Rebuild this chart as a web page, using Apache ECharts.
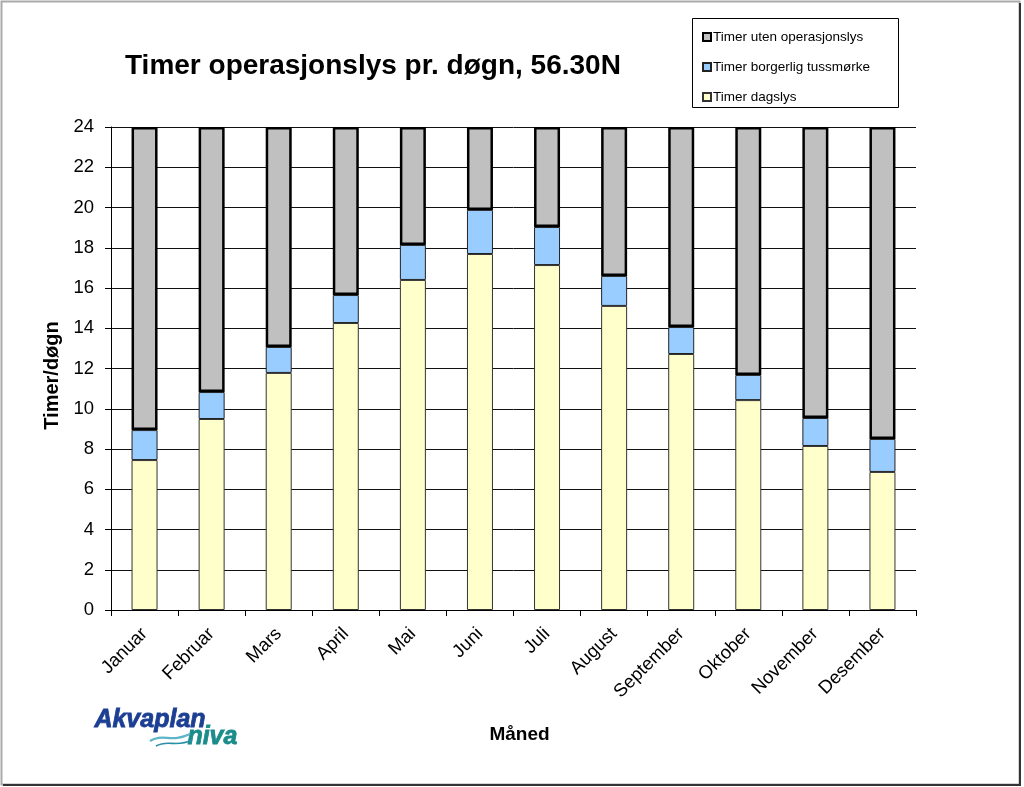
<!DOCTYPE html>
<html>
<head>
<meta charset="utf-8">
<script src="https://cdn.jsdelivr.net/npm/echarts@6/dist/echarts.min.js"></script>
<style>
html,body{margin:0;padding:0;background:#fff;}
#c{width:1024px;height:787px;}
</style>
</head>
<body>
<div id="c"></div>
<script>
const months = ['Januar','Februar','Mars','April','Mai','Juni','Juli','August','September','Oktober','November','Desember'];
const daylight = [7.45, 9.49, 11.78, 14.26, 16.40, 17.69, 17.14, 15.11, 12.72, 10.43, 8.15, 6.86];
const twilight = [1.49, 1.34, 1.29, 1.39, 1.74, 2.19, 1.89, 1.49, 1.34, 1.25, 1.39, 1.64];
const darkness = [15.06, 13.17, 10.93, 8.35, 5.86, 4.12, 4.97, 7.40, 9.94, 12.32, 14.46, 15.50];
const yTicks = [0, 2, 4, 6, 8, 10, 12, 14, 16, 18, 20, 22, 24];

const FONT = '"Liberation Sans", Arial, sans-serif';
const chart = echarts.init(document.getElementById('c'), null, {renderer: 'canvas'});

const barW = 26;
chart.setOption({
  animation: false,
  textStyle: {fontFamily: FONT},
  title: {
    text: 'Timer operasjonslys pr. døgn, 56.30N',
    left: 120, top: 47,
    textStyle: {fontFamily: FONT, fontSize: 28, fontWeight: 'bold', color: '#000'}
  },
  legend: {
    orient: 'vertical',
    left: 697, top: 25,
    itemWidth: 8, itemHeight: 8, itemGap: 16,
    icon: 'rect',
    textStyle: {fontFamily: FONT, fontSize: 13.5, color: '#000', padding: [0,0,0,-3]},
    data: ['Timer uten operasjonslys', 'Timer borgerlig tussmørke', 'Timer dagslys']
  },
  grid: {left: 111, right: 108, top: 127, bottom: 177, containLabel: false},
  xAxis: {
    type: 'category',
    data: months,
    name: 'Måned',
    nameLocation: 'middle',
    nameGap: 115,
    nameTextStyle: {fontFamily: FONT, fontSize: 19, fontWeight: 'bold', color: '#000', padding: [0,0,0,12]},
    axisLine: {lineStyle: {color: '#000', width: 1}},
    axisTick: {show: true, length: 6, lineStyle: {color: '#000'}},
    axisLabel: {rotate: 45, fontFamily: FONT, fontSize: 18.5, color: '#000', margin: 21}
  },
  yAxis: {
    type: 'value',
    min: 0, max: 24, interval: 2,
    name: 'Timer/døgn',
    nameLocation: 'middle',
    nameGap: 47,
    nameTextStyle: {fontFamily: FONT, fontSize: 20, fontWeight: 'bold', color: '#000', padding: [0,0,0,-14]},
    axisLine: {show: true, lineStyle: {color: '#000', width: 1}},
    axisTick: {show: true, length: 6, lineStyle: {color: '#000'}},
    axisLabel: {fontFamily: FONT, fontSize: 18.5, color: '#000', margin: 17,
      formatter: v => yTicks.indexOf(v) >= 0 ? String(v) : ''},
    splitLine: {show: true, lineStyle: {color: '#111', width: 1}}
  },
  series: [
    {name: 'Timer dagslys', type: 'bar', stack: 'h', data: daylight, barWidth: barW,
     itemStyle: {color: '#FFFFCC', borderColor: '#333', borderWidth: 1}},
    {name: 'Timer borgerlig tussmørke', type: 'bar', stack: 'h', data: twilight, barWidth: barW,
     itemStyle: {color: '#99CCFF', borderColor: '#222', borderWidth: 1}},
    {name: 'Timer uten operasjonslys', type: 'bar', stack: 'h', data: darkness, barWidth: barW,
     itemStyle: {color: '#C0C0C0', borderColor: '#000', borderWidth: 2.5}}
  ],
  graphic: [
    {type: 'rect', shape: {x: 1.5, y: 1.5, width: 1018, height: 783}, silent: true, z: -10,
     style: {fill: 'none', stroke: '#aaa', lineWidth: 2}},
    {type: 'polyline', shape: {points: [[1020, 3], [1020, 785], [3, 785]]}, silent: true,
     style: {fill: 'none', stroke: '#333', lineWidth: 2}},
    {type: 'rect', shape: {x: 692.5, y: 18.5, width: 206, height: 89}, silent: true, z: -5,
     style: {fill: '#fff', stroke: '#000', lineWidth: 1}},
    {type: 'text', left: 94, top: 707, style: {text: 'Akvaplan', font: 'italic bold 25px ' + FONT, fill: '#1c3f94', stroke: '#1c3f94', lineWidth: 0.8}},
    {type: 'text', left: 187, top: 724, style: {text: 'niva', font: 'italic bold 25px ' + FONT, fill: '#1a8c8a', stroke: '#1a8c8a', lineWidth: 0.8}},
    {type: 'bezierCurve', shape: {x1: 150, y1: 741, cpx1: 162, cpy1: 733, cpx2: 172, cpy2: 743, x2: 190, y2: 734},
     style: {stroke: '#5fb4c8', lineWidth: 2.2, fill: 'none'}},
    {type: 'bezierCurve', shape: {x1: 156, y1: 746, cpx1: 168, cpy1: 739, cpx2: 176, cpy2: 748, x2: 192, y2: 740},
     style: {stroke: '#2a8fa8', lineWidth: 1.6, fill: 'none'}}
  ]
});
</script>
</body>
</html>
